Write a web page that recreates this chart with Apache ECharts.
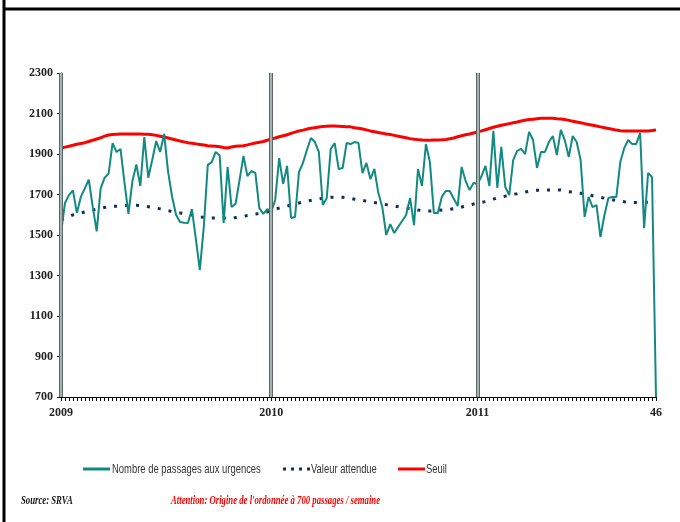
<!DOCTYPE html>
<html>
<head>
<meta charset="utf-8">
<script src="https://cdn.jsdelivr.net/npm/echarts@6/dist/echarts.min.js"></script>
<style>
  html, body { margin: 0; padding: 0; background: #fff; }
  #chart { width: 680px; height: 522px; }
</style>
</head>
<body>
<div id="chart"></div>
<script>
// semaines : 2009 (53), 2010 (52), 2011 (jusqu'à S46)
var years = [2009, 2010, 2011]
var weeksPerYear = [53, 52, 46]

// nombre de passages aux urgences par semaine
var passages = [
  1510, 1658, 1697, 1720, 1609, 1688, 1730, 1773, 1640, 1518,
  1730, 1783, 1803, 1954, 1910, 1925, 1760, 1604, 1765, 1848,
  1742, 1984, 1783, 1870, 1964, 1910, 1999, 1812, 1690, 1600,
  1564, 1560, 1559, 1628, 1480, 1327, 1540, 1846, 1860, 1910,
  1893, 1559, 1836, 1638, 1653, 1770, 1890, 1791, 1816, 1806,
  1633, 1604, 1628, 1614, 1673, 1880, 1752, 1841, 1584, 1589,
  1811, 1856, 1920, 1979, 1959, 1910, 1648, 1683, 1925, 1954,
  1826, 1831, 1954, 1949, 1959, 1954, 1806, 1856, 1776, 1826,
  1707, 1638, 1500, 1554, 1510, 1540, 1569, 1599, 1683, 1549,
  1826, 1742, 1949, 1860, 1609, 1609, 1688, 1717, 1717, 1680,
  1643, 1836, 1767, 1722, 1757, 1752, 1790, 1841, 1742, 2014,
  1732, 1935, 1737, 1697, 1870, 1915, 1925, 1900, 2009, 1969,
  1831, 1910, 1910, 1959, 1989, 1895, 2019, 1969, 1885, 1989,
  1959, 1870, 1589, 1688, 1638, 1648, 1490, 1599, 1683, 1688,
  1688, 1860, 1930, 1969, 1949, 1949, 2004, 1534, 1806, 1786,
  700
]

// valeur attendue
var attendue = [
  1575, 1583, 1591, 1599, 1604, 1609, 1614, 1619, 1623, 1628,
  1632, 1636, 1640, 1641, 1642, 1643, 1645, 1647, 1648, 1647,
  1645, 1643, 1640, 1637, 1633, 1629, 1624, 1620, 1616, 1612,
  1609, 1606, 1604, 1599, 1594, 1589, 1587, 1585, 1584, 1584,
  1584, 1584, 1584, 1584, 1586, 1589, 1592, 1596, 1599, 1603,
  1607, 1610, 1614, 1620, 1627, 1633, 1638, 1643, 1648, 1653,
  1658, 1663, 1667, 1671, 1675, 1678, 1681, 1684, 1686, 1687,
  1688, 1686, 1684, 1681, 1677, 1674, 1671, 1667, 1664, 1660,
  1657, 1653, 1650, 1646, 1643, 1640, 1636, 1633, 1630, 1626,
  1623, 1621, 1619, 1618, 1619, 1621, 1623, 1625, 1627, 1630,
  1634, 1638, 1642, 1647, 1653, 1657, 1661, 1665, 1671, 1677,
  1683, 1688, 1692, 1697, 1701, 1704, 1708, 1712, 1716, 1720,
  1721, 1722, 1722, 1722, 1722, 1722, 1722, 1718, 1714, 1712,
  1709, 1706, 1703, 1699, 1694, 1690, 1686, 1682, 1678, 1674,
  1670, 1667, 1664, 1662, 1660, 1660, 1660, 1661, 1662, 1662,
  1663
]

// seuil
var seuil = [
  1930, 1934, 1938, 1943, 1948, 1952, 1956, 1962, 1968, 1974,
  1980, 1988, 1994, 1996, 1998, 1999, 1999, 1999, 1999, 1999,
  1999, 1998, 1997, 1995, 1992, 1988, 1984, 1979, 1974, 1969,
  1964, 1960, 1956, 1953, 1950, 1947, 1944, 1941, 1940, 1938,
  1936, 1932, 1930, 1935, 1938, 1940, 1941, 1945, 1950, 1954,
  1958, 1962, 1968, 1974, 1979, 1985, 1990, 1995, 2002, 2008,
  2014, 2018, 2023, 2027, 2030, 2033, 2036, 2037, 2038, 2038,
  2037, 2036, 2035, 2034, 2030, 2027, 2023, 2019, 2014, 2010,
  2006, 2003, 1999, 1996, 1992, 1988, 1984, 1980, 1976, 1973,
  1971, 1969, 1968, 1968, 1969, 1969, 1970, 1972, 1975, 1979,
  1985, 1990, 1995, 1999, 2004, 2009, 2014, 2020, 2026, 2032,
  2037, 2042, 2046, 2050, 2054, 2058, 2063, 2067, 2070, 2072,
  2074, 2076, 2077, 2077, 2076, 2074, 2073, 2070, 2066, 2062,
  2058, 2054, 2050, 2046, 2042, 2038, 2034, 2030, 2026, 2022,
  2018, 2015, 2014, 2013, 2013, 2013, 2013, 2014, 2014, 2016,
  2019
]

var yTicks = [700, 900, 1100, 1300, 1500, 1700, 1900, 2100, 2300]

var seriesNames = ['Nombre de passages aux urgences', 'Valeur attendue', 'Seuil']
var colors = ['#128a81', '#0c2f5e', '#ff0000']

// catégories "annee-semaine"
var weeks = []
years.forEach(function (y, k) {
  for (var w = 1; w <= weeksPerYear[k]; w++) weeks.push(y + '-' + w)
})
var lastIdx = weeks.length - 1

function xLabel(value, idx) {
  var parts = value.split('-')
  if (parts[1] === '1') return parts[0]
  if (idx === lastIdx) return parts[1]
  return ''
}

// début de chaque année (trait vertical)
var yearStarts = []
weeks.forEach(function (v, i) { if (v.split('-')[1] === '1') yearStarts.push(i) })

// texte tassé comme sur l'original
function txt(x, y, text, font, fill, sx) {
  return {
    type: 'text', x: x, y: y, scaleX: sx, originX: 0, originY: 0,
    style: { text: text, font: font, fill: fill, textVerticalAlign: 'middle' }
  }
}
var legendFont = '13px "Liberation Sans"'
var footFont = 'italic bold 13px "Liberation Serif"'

var chart = echarts.init(document.getElementById('chart'))
var option = {
  backgroundColor: '#fff',
  animation: false,
  grid: { left: 61, right: 24, top: 73, bottom: 125 },
  xAxis: {
    type: 'category',
    data: weeks,
    boundaryGap: false,
    axisLine: { lineStyle: { color: '#000', width: 1 } },
    axisTick: { interval: 0, length: 4, lineStyle: { color: '#000' } },
    axisLabel: {
      interval: 0,
      margin: 10,
      showMaxLabel: true,
      formatter: function (v, i) { return xLabel(v, i) },
      fontFamily: 'Liberation Serif',
      fontWeight: 'bold',
      fontSize: 12,
      color: '#222'
    },
    splitLine: { show: false }
  },
  yAxis: {
    type: 'value',
    min: yTicks[0],
    max: yTicks[yTicks.length - 1],
    interval: 200,
    axisLine: { show: true, lineStyle: { color: '#000', width: 1 } },
    axisTick: { show: true, length: 4, lineStyle: { color: '#000' } },
    axisLabel: {
      margin: 8,
      formatter: function (v) { return String(v) },
      fontFamily: 'Liberation Serif',
      fontWeight: 'bold',
      fontSize: 12,
      color: '#222'
    },
    splitLine: { show: false }
  },
  series: [
    {
      name: seriesNames[0],
      type: 'line',
      data: passages,
      symbol: 'none',
      z: 3,
      lineStyle: { color: colors[0], width: 2 },
      markLine: {
        silent: true,
        symbol: 'none',
        label: { show: false },
        lineStyle: { color: '#5b6766', width: 4, type: 'solid' },
        data: yearStarts.map(function (i) { return { xAxis: i } }),
        z: 5
      }
    },
    {
      name: seriesNames[1],
      type: 'line',
      data: attendue,
      symbol: 'none',
      z: 2,
      lineStyle: { color: colors[1], width: 3, type: [3, 8], cap: 'butt' }
    },
    {
      name: seriesNames[2],
      type: 'line',
      data: seuil,
      symbol: 'none',
      z: 2,
      lineStyle: { color: colors[2], width: 3 }
    },
    {
      // filet clair au milieu des traits annuels
      name: 'sep',
      type: 'line',
      data: [],
      markLine: {
        silent: true,
        symbol: 'none',
        label: { show: false },
        lineStyle: { color: '#b7cfcb', width: 1.5, type: 'solid' },
        data: yearStarts.map(function (i) { return { xAxis: i } }),
        z: 6
      }
    }
  ],
  graphic: [
    { type: 'line', shape: { x1: 4, y1: 0, x2: 4, y2: 522 }, style: { stroke: '#000', lineWidth: 3 } },
    { type: 'line', shape: { x1: 4, y1: 9, x2: 680, y2: 9 }, style: { stroke: '#000', lineWidth: 3 } },
    // légende
    { type: 'line', shape: { x1: 83, y1: 469, x2: 110, y2: 469 }, style: { stroke: colors[0], lineWidth: 3 } },
    txt(112, 469, seriesNames[0], legendFont, '#333', 0.725),
    { type: 'line', shape: { x1: 283, y1: 469, x2: 310, y2: 469 }, style: { stroke: colors[1], lineWidth: 3, lineDash: [3, 5] } },
    txt(311, 469, seriesNames[1], legendFont, '#333', 0.725),
    { type: 'line', shape: { x1: 398, y1: 469, x2: 425, y2: 469 }, style: { stroke: colors[2], lineWidth: 3 } },
    txt(426, 469, seriesNames[2], legendFont, '#333', 0.725),
    // pied
    txt(21, 501, 'Source: SRVA', footFont, '#111', 0.67),
    txt(171, 501, "Attention: Origine de l'ordonnée à 700 passages / semaine", footFont, '#ff0000', 0.67)
  ]
}
chart.setOption(option)
</script>
</body>
</html>
